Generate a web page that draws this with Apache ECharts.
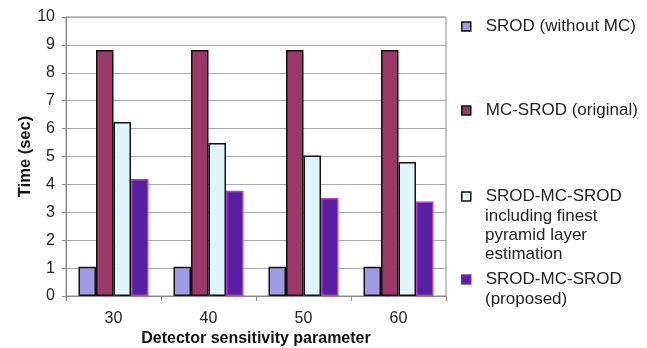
<!DOCTYPE html>
<html>
<head>
<meta charset="utf-8">
<script src="https://cdn.jsdelivr.net/npm/echarts@6/dist/echarts.min.js"></script>
<style>
  html, body { margin: 0; padding: 0; background: #fff; }
  #chart { width: 647px; height: 348px; }
</style>
</head>
<body>
<div id="chart"></div>
<script>
// detector sensitivity values on the x axis
var categories = ["30", "40", "50", "60"];

// time in seconds
var srodNoMc = [1.05, 1.05, 1.05, 1.05];
var mcSrod = [8.82, 8.82, 8.82, 8.82];
var srodMcFinest = [6.24, 5.48, 5.04, 4.80];
var srodMcProposed = [4.19, 3.77, 3.51, 3.39];

var seriesNames = [
    "SROD (without MC)",
    "MC-SROD (original)",
    "SROD-MC-SROD\nincluding finest\npyramid layer\nestimation",
    "SROD-MC-SROD\n(proposed)"
];

var fontName = "'Liberation Sans', Arial, sans-serif";
var legendFont = "17px " + fontName;

var chart = echarts.init(document.getElementById("chart"), null, { renderer: "canvas" });

function makeBar(name, data, fill, edge) {
    return {
        name: name,
        type: "bar",
        data: data,
        barWidth: 17.5,
        barGap: "0%",
        itemStyle: { color: fill, borderColor: edge, borderWidth: 1.5 },
        emphasis: { disabled: true },
        animation: false
    };
}

// one legend per entry so each can sit where the original put it;
// only the first line goes in the legend, the rest is drawn below it
function makeLegend(name, top, edge) {
    return {
        data: [name],
        orient: "vertical",
        left: 461,
        top: top,
        padding: 0,
        itemWidth: 9,
        itemHeight: 9,
        icon: "rect",
        selectedMode: false,
        itemStyle: { borderColor: edge, borderWidth: 1.5 },
        formatter: function (n) {
            return "{g|}{t|" + n.split("\n")[0] + "}";
        },
        textStyle: {
            rich: {
                g: { width: 10 },
                t: { fontFamily: fontName, fontSize: 17, color: "#222" }
            }
        }
    };
}

function extraLines(name, top) {
    return {
        type: "text",
        left: 485,
        top: top,
        silent: true,
        style: {
            text: name.split("\n").slice(1).join("\n"),
            font: legendFont,
            lineHeight: 19,
            fill: "#222"
        }
    };
}

var option = {
    backgroundColor: "#fff",
    animation: false,
    grid: {
        left: 66, right: 201, top: 17, bottom: 52,
        outerBoundsMode: "none",
        show: true, borderColor: "#8a8a8a", borderWidth: 1
    },
    legend: [
        makeLegend(seriesNames[0], 18, "#111"),
        makeLegend(seriesNames[1], 102, "#111"),
        makeLegend(seriesNames[2], 188, "#111"),
        makeLegend(seriesNames[3], 271, "#7a2cb0")
    ],
    graphic: [
        extraLines(seriesNames[2], 207),
        extraLines(seriesNames[3], 290)
    ],
    xAxis: {
        type: "category",
        data: categories,
        boundaryGap: true,
        name: "Detector sensitivity parameter",
        nameLocation: "middle",
        nameGap: 35,
        nameMoveOverlap: false,
        nameTextStyle: { fontFamily: fontName, fontSize: 16, fontWeight: "bold", color: "#111" },
        axisLine: { lineStyle: { color: "#8a8a8a", width: 1 } },
        axisTick: { show: true, length: 5, lineStyle: { color: "#8a8a8a" } },
        axisLabel: { fontFamily: fontName, fontSize: 16, color: "#222", margin: 15 },
        splitLine: { show: false }
    },
    yAxis: {
        type: "value",
        min: 0,
        max: 10,
        interval: 1,
        name: "Time (sec)",
        nameLocation: "middle",
        nameGap: 32,
        nameMoveOverlap: false,
        nameRotate: 90,
        nameTextStyle: { fontFamily: fontName, fontSize: 16.5, fontWeight: "bold", color: "#111" },
        axisLine: { show: true, lineStyle: { color: "#8a8a8a", width: 1 } },
        axisTick: { show: true, length: 4, lineStyle: { color: "#8a8a8a" } },
        axisLabel: { fontFamily: fontName, fontSize: 16, color: "#222", margin: 11 },
        splitLine: { show: true, lineStyle: { color: "#a8a8a8", width: 1 } }
    },
    series: [
        makeBar(seriesNames[0], srodNoMc, "#a09be0", "#111"),
        makeBar(seriesNames[1], mcSrod, "#9a3868", "#111"),
        makeBar(seriesNames[2], srodMcFinest, "#dff5fa", "#111"),
        makeBar(seriesNames[3], srodMcProposed, "#5820a0", "#b040c8")
    ]
};

chart.setOption(option);
</script>
</body>
</html>
